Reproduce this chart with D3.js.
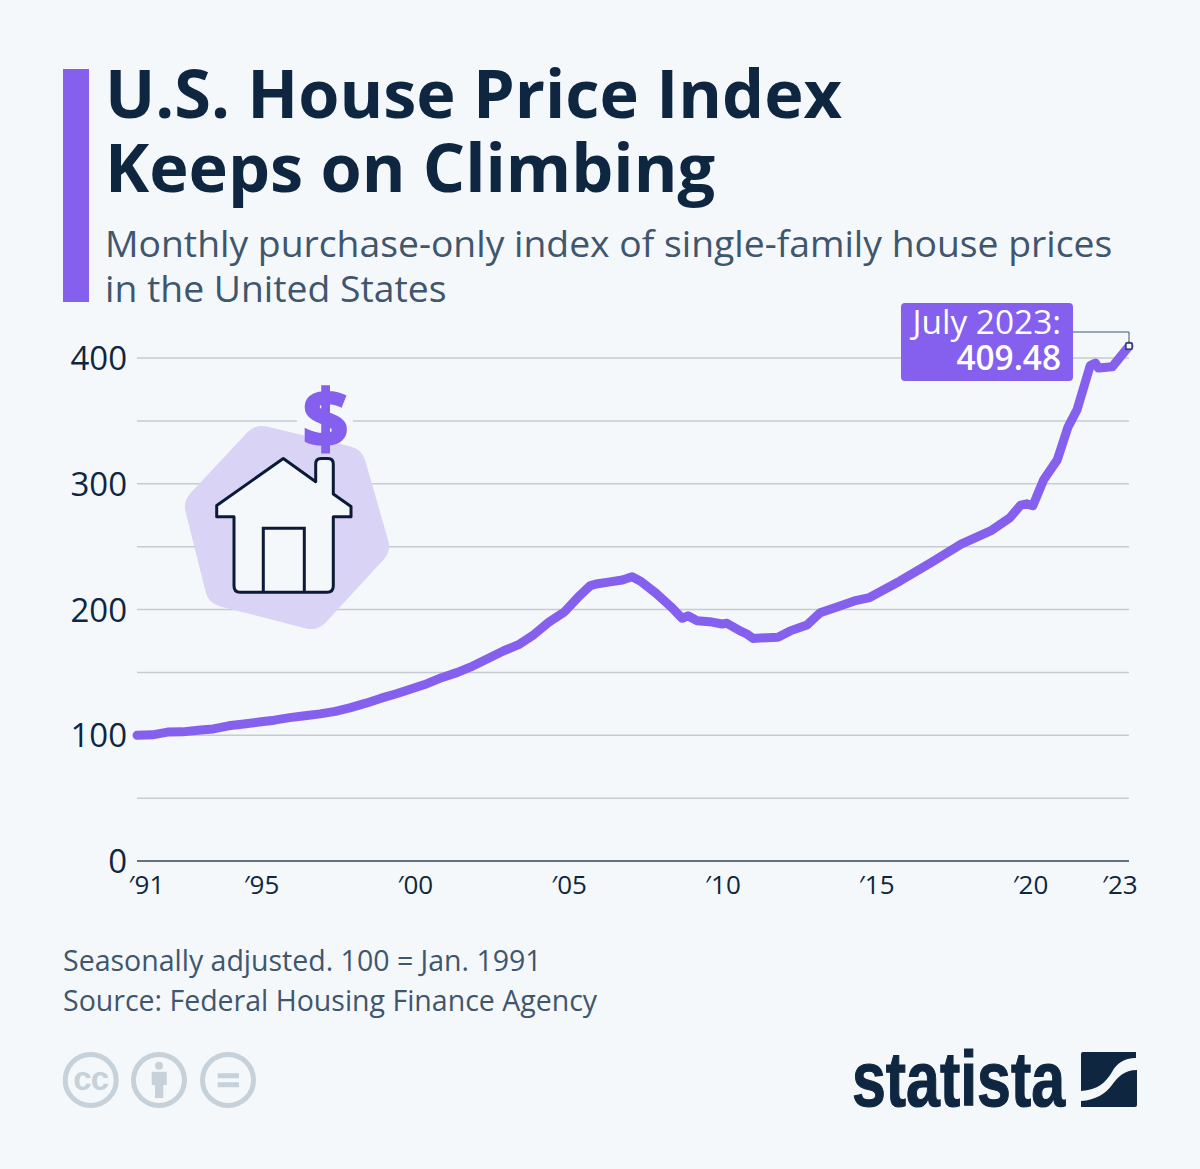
<!DOCTYPE html>
<html>
<head>
<meta charset="utf-8">
<script src="https://cdn.jsdelivr.net/npm/d3@7"></script>
<style>
  html, body { margin: 0; padding: 0; background: #f4f8fb; }
  svg { display: block; font-family: "Open Sans", sans-serif; }
</style>
</head>
<body>
<svg id="chart" width="1200" height="1169"></svg>
<script>
// values, index against fractional year
var years = [1991, 1991.5, 1992, 1992.5, 1993, 1993.5, 1994, 1994.5, 1995, 1995.5, 1996, 1996.5, 1997, 1997.5,
  1998, 1998.5, 1999, 1999.5, 2000, 2000.5, 2001, 2001.5, 2002, 2002.5, 2003, 2003.5, 2004, 2004.5, 2005, 2005.5,
  2005.85, 2006.1, 2006.5, 2006.9, 2007.22, 2007.5, 2008, 2008.5, 2008.86, 2009.05, 2009.35, 2009.84, 2010.17, 2010.33,
  2010.76, 2010.98, 2011.18, 2012, 2012.4, 2012.95, 2013.38, 2014.03, 2014.5, 2015, 2016, 2017, 2018, 2019, 2019.6, 2019.95,
  2020.15, 2020.35, 2020.7, 2021.15, 2021.5, 2021.8, 2022.23, 2022.4, 2022.5, 2022.95, 2023.5];
var values = [100, 100.3, 102.5, 102.7, 104, 105, 107.5, 109, 110.5, 112, 114, 115.5, 117, 119,
  122, 125.5, 129.5, 133, 137, 141, 146, 150, 155, 161, 167, 172, 180, 190, 198, 211,
  219, 220.5, 222, 223.5, 226, 222.5, 213, 202, 193, 195, 191, 190, 188.5, 189,
  183, 180.5, 177, 178, 183, 187.7, 197.4, 202.8, 206.8, 209.5, 222.7, 237, 252, 263, 273, 283,
  284, 282.5, 303, 319, 345, 359, 394, 396, 392, 393, 409.48];

var yTicks = [0, 100, 200, 300, 400];
var gridValues = [50, 100, 150, 200, 250, 300, 350, 400];
var xTickYears = [1991, 1995, 2000, 2005, 2010, 2015, 2020, 2023];
var xTickLabels = ["\u203291", "\u203295", "\u203200", "\u203205", "\u203210", "\u203215", "\u203220", "\u203223"];

var titleLines = ["U.S. House Price Index", "Keeps on Climbing"];
var subtitleLines = ["Monthly purchase-only index of single-family house prices", "in the United States"];
var noteLines = ["Seasonally adjusted. 100 = Jan. 1991", "Source: Federal Housing Finance Agency"];
var calloutLines = ["July 2023:", "409.48"];

var bg = "#f4f8fb", purple = "#8560ee", navy = "#0f2640", slate = "#3f566d", grid = "#c5ccd0", pale = "#c6d1d9";

var svg = d3.select("#chart");
svg.append("rect").attr("width", 1200).attr("height", 1169).attr("fill", bg);

var x = d3.scaleLinear().domain([1991, 2023.5]).range([137, 1129]);
var xLabel = d3.scaleLinear().domain([1995, 2020]).range([261, 1030]); // labels sit on a slightly wider step
var y = d3.scaleLinear().domain([0, 400]).range([861, 358]);

// header
svg.append("rect").attr("x", 63).attr("y", 69).attr("width", 26).attr("height", 233).attr("fill", purple);
svg.selectAll(".title").data(titleLines).join("text").attr("class", "title")
  .attr("x", 105).attr("y", (d, i) => 118 + i * 73.5)
  .attr("font-size", 66.6).attr("font-weight", 700).attr("fill", navy).text(d => d);
svg.selectAll(".subtitle").data(subtitleLines).join("text").attr("class", "subtitle")
  .attr("x", 105).attr("y", (d, i) => 257 + i * 45)
  .attr("font-size", 37.3).attr("fill", slate).text(d => d);

// grid
svg.selectAll(".grid").data(gridValues).join("line").attr("class", "grid")
  .attr("x1", 137).attr("x2", 1129).attr("y1", d => y(d)).attr("y2", d => y(d))
  .attr("stroke", grid).attr("stroke-width", 1.5);

// y axis labels
var yAxis = d3.axisLeft(y).tickValues(yTicks).tickSize(0).tickPadding(10);
var yG = svg.append("g").attr("transform", "translate(137,1)").call(yAxis);
yG.select(".domain").remove();
yG.selectAll("text").attr("font-family", "Open Sans").attr("font-size", 33).attr("fill", navy);

// x axis
var xAxis = d3.axisBottom(xLabel).tickValues(xTickYears).tickSize(0).tickPadding(15)
  .tickFormat((d, i) => xTickLabels[i]);
var xG = svg.append("g").attr("transform", "translate(0,861)").call(xAxis);
xG.select(".domain").remove();
xG.selectAll("text").attr("font-family", "Open Sans").attr("font-size", 26).attr("fill", navy)
  .attr("dx", (d, i) => i == 0 ? 8 : (i == xTickYears.length - 1 ? -3 : 0));
svg.append("line").attr("x1", 137).attr("x2", 1129).attr("y1", y(0)).attr("y2", y(0))
  .attr("stroke", "#33475a").attr("stroke-width", 1.5);

// house icon
var icon = svg.append("g");
icon.append("rect").attr("x", 297).attr("y", 414).attr("width", 56).attr("height", 14).attr("fill", bg); // gap in grid behind the $
var blob = [[262, 446], [346, 466], [369, 546], [311, 609], [225, 587], [205, 507]];
icon.append("path").attr("d", d3.line()(blob) + "Z")
  .attr("fill", "#d9d3f6").attr("stroke", "#d9d3f6").attr("stroke-width", 40).attr("stroke-linejoin", "round");
icon.append("path")
  .attr("d", "M283.3,458.5L315.7,481.7V464Q315.7,458.5 321,458.5H328Q333.3,458.5 333.3,464V494L351,506.5V516.7H333.3V586Q333.3,592.3 327,592.3H240Q234,592.3 234,586V516.7H216.7V505.5Z")
  .attr("fill", bg).attr("stroke", "#0b1b36").attr("stroke-width", 3).attr("stroke-linejoin", "round");
icon.append("path").attr("d", "M263.3,592.3V528.3H304.3V592.3")
  .attr("fill", "none").attr("stroke", "#0b1b36").attr("stroke-width", 3);
icon.append("text").attr("x", 325.5).attr("y", 446.5).attr("text-anchor", "middle")
  .attr("font-size", 79).attr("font-weight", 700).attr("fill", purple)
  .attr("stroke", purple).attr("stroke-width", 3.5).text("$");

// line
var line = d3.line().x((d, i) => x(years[i])).y(d => y(d));
svg.append("path").datum(values).attr("d", line)
  .attr("fill", "none").attr("stroke", purple).attr("stroke-width", 9)
  .attr("stroke-linecap", "round").attr("stroke-linejoin", "round");

// callout
var lastX = x(years[years.length - 1]), lastY = y(values[values.length - 1]);
svg.append("path").attr("d", "M1072," + 332 + "H" + lastX + "V" + lastY)
  .attr("fill", "none").attr("stroke", slate).attr("stroke-width", 1);
svg.append("rect").attr("x", lastX - 3).attr("y", lastY - 3).attr("width", 6).attr("height", 6)
  .attr("fill", bg).attr("stroke", navy).attr("stroke-width", 1.2);
svg.append("rect").attr("x", 901).attr("y", 303).attr("width", 172).attr("height", 78).attr("rx", 4).attr("fill", purple);
svg.selectAll(".callout").data(calloutLines).join("text").attr("class", "callout")
  .attr("x", 1061).attr("y", (d, i) => 334 + i * 36).attr("text-anchor", "end")
  .attr("font-size", 33.4).attr("font-weight", (d, i) => i ? 600 : 400).attr("fill", "#fff").text(d => d);

// footer
svg.selectAll(".note").data(noteLines).join("text").attr("class", "note")
  .attr("x", 63).attr("y", (d, i) => 971 + i * 40)
  .attr("font-size", 28.5).attr("fill", slate).text(d => d);

// licence badges
var badgeX = [90.7, 159, 228];
svg.selectAll(".badge").data(badgeX).join("circle").attr("class", "badge")
  .attr("cx", d => d).attr("cy", 1080).attr("r", 25.5)
  .attr("fill", "none").attr("stroke", pale).attr("stroke-width", 5);
svg.append("text").attr("x", 90.7).attr("y", 1089.5).attr("text-anchor", "middle")
  .attr("font-family", "Liberation Sans").attr("font-size", 33).attr("font-weight", 700)
  .attr("letter-spacing", -1).attr("fill", pale).text("cc");
svg.append("circle").attr("cx", 159).attr("cy", 1065.7).attr("r", 4).attr("fill", pale);
svg.append("path").attr("d", "M151.7,1071.7H166.7V1085H163.3V1098H155V1085H151.7Z").attr("fill", pale);
svg.append("path").attr("d", "M217.7,1073.3H239V1078.3H217.7ZM217.7,1082.3H239V1087.3H217.7Z").attr("fill", pale);

// logo
svg.append("text").attr("x", 852).attr("y", 1106)
  .attr("font-family", "Liberation Sans").attr("font-weight", 700).attr("font-size", 78)
  .attr("textLength", 213).attr("lengthAdjust", "spacingAndGlyphs")
  .attr("fill", navy).attr("stroke", navy).attr("stroke-width", 1.2).text("statista");
svg.append("path").attr("d", "M1083,1052H1136V1058C1124,1058 1116,1064 1112,1072C1106,1082 1098,1090 1081,1091V1054Q1081,1052 1083,1052Z").attr("fill", navy);
svg.append("path").attr("d", "M1137,1070V1105Q1137,1107 1135,1107H1081V1101C1096,1100 1105,1094 1112,1085C1118,1077 1124,1070 1137,1070Z").attr("fill", navy);
</script>
</body>
</html>
